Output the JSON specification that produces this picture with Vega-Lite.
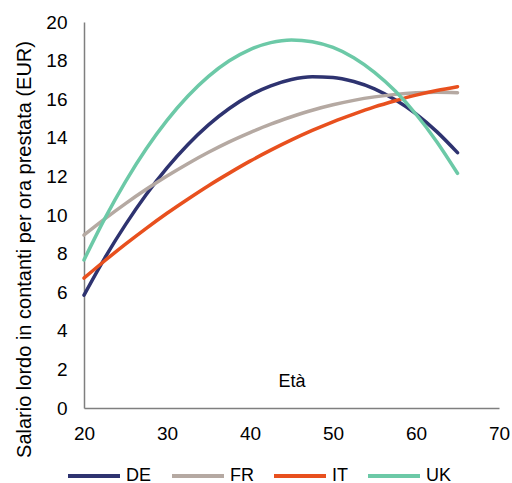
{
  "$schema": "https://vega.github.io/schema/vega-lite/v6.json",
  "width": 415,
  "height": 386,
  "autosize": {"type": "none"},
  "padding": {"left": 84, "top": 22, "right": 13, "bottom": 75},
  "background": "white",
  "config": {
    "font": "Liberation Sans",
    "view": {"stroke": null}
  },
  "data": {
    "values": [
      {"eta": 20, "paese": "DE", "salario": 5.85},
      {"eta": 22.5, "paese": "DE", "salario": 7.77},
      {"eta": 25, "paese": "DE", "salario": 9.5},
      {"eta": 27.5, "paese": "DE", "salario": 11.06},
      {"eta": 30, "paese": "DE", "salario": 12.44},
      {"eta": 32.5, "paese": "DE", "salario": 13.64},
      {"eta": 35, "paese": "DE", "salario": 14.67},
      {"eta": 37.5, "paese": "DE", "salario": 15.52},
      {"eta": 40, "paese": "DE", "salario": 16.2},
      {"eta": 42.5, "paese": "DE", "salario": 16.69},
      {"eta": 45, "paese": "DE", "salario": 17.02},
      {"eta": 47.5, "paese": "DE", "salario": 17.16},
      {"eta": 50, "paese": "DE", "salario": 17.13},
      {"eta": 52.5, "paese": "DE", "salario": 16.92},
      {"eta": 55, "paese": "DE", "salario": 16.54},
      {"eta": 57.5, "paese": "DE", "salario": 15.97},
      {"eta": 60, "paese": "DE", "salario": 15.24},
      {"eta": 62.5, "paese": "DE", "salario": 14.32},
      {"eta": 65, "paese": "DE", "salario": 13.23},
      {"eta": 20, "paese": "FR", "salario": 8.96},
      {"eta": 22.5, "paese": "FR", "salario": 9.8},
      {"eta": 25, "paese": "FR", "salario": 10.59},
      {"eta": 27.5, "paese": "FR", "salario": 11.33},
      {"eta": 30, "paese": "FR", "salario": 12.02},
      {"eta": 32.5, "paese": "FR", "salario": 12.66},
      {"eta": 35, "paese": "FR", "salario": 13.25},
      {"eta": 37.5, "paese": "FR", "salario": 13.79},
      {"eta": 40, "paese": "FR", "salario": 14.27},
      {"eta": 42.5, "paese": "FR", "salario": 14.71},
      {"eta": 45, "paese": "FR", "salario": 15.09},
      {"eta": 47.5, "paese": "FR", "salario": 15.43},
      {"eta": 50, "paese": "FR", "salario": 15.71},
      {"eta": 52.5, "paese": "FR", "salario": 15.94},
      {"eta": 55, "paese": "FR", "salario": 16.12},
      {"eta": 57.5, "paese": "FR", "salario": 16.25},
      {"eta": 60, "paese": "FR", "salario": 16.33},
      {"eta": 62.5, "paese": "FR", "salario": 16.36},
      {"eta": 65, "paese": "FR", "salario": 16.34},
      {"eta": 20, "paese": "IT", "salario": 6.73},
      {"eta": 22.5, "paese": "IT", "salario": 7.63},
      {"eta": 25, "paese": "IT", "salario": 8.49},
      {"eta": 27.5, "paese": "IT", "salario": 9.31},
      {"eta": 30, "paese": "IT", "salario": 10.09},
      {"eta": 32.5, "paese": "IT", "salario": 10.82},
      {"eta": 35, "paese": "IT", "salario": 11.52},
      {"eta": 37.5, "paese": "IT", "salario": 12.17},
      {"eta": 40, "paese": "IT", "salario": 12.79},
      {"eta": 42.5, "paese": "IT", "salario": 13.36},
      {"eta": 45, "paese": "IT", "salario": 13.89},
      {"eta": 47.5, "paese": "IT", "salario": 14.38},
      {"eta": 50, "paese": "IT", "salario": 14.83},
      {"eta": 52.5, "paese": "IT", "salario": 15.23},
      {"eta": 55, "paese": "IT", "salario": 15.6},
      {"eta": 57.5, "paese": "IT", "salario": 15.92},
      {"eta": 60, "paese": "IT", "salario": 16.21},
      {"eta": 62.5, "paese": "IT", "salario": 16.45},
      {"eta": 65, "paese": "IT", "salario": 16.65},
      {"eta": 20, "paese": "UK", "salario": 7.67},
      {"eta": 22.5, "paese": "UK", "salario": 9.81},
      {"eta": 25, "paese": "UK", "salario": 11.73},
      {"eta": 27.5, "paese": "UK", "salario": 13.43},
      {"eta": 30, "paese": "UK", "salario": 14.9},
      {"eta": 32.5, "paese": "UK", "salario": 16.15},
      {"eta": 35, "paese": "UK", "salario": 17.18},
      {"eta": 37.5, "paese": "UK", "salario": 17.99},
      {"eta": 40, "paese": "UK", "salario": 18.57},
      {"eta": 42.5, "paese": "UK", "salario": 18.93},
      {"eta": 45, "paese": "UK", "salario": 19.07},
      {"eta": 47.5, "paese": "UK", "salario": 18.98},
      {"eta": 50, "paese": "UK", "salario": 18.68},
      {"eta": 52.5, "paese": "UK", "salario": 18.15},
      {"eta": 55, "paese": "UK", "salario": 17.39},
      {"eta": 57.5, "paese": "UK", "salario": 16.42},
      {"eta": 60, "paese": "UK", "salario": 15.22},
      {"eta": 62.5, "paese": "UK", "salario": 13.8},
      {"eta": 65, "paese": "UK", "salario": 12.16}
    ]
  },
  "mark": {"type": "line", "interpolate": "monotone", "strokeWidth": 3.5, "strokeCap": "round"},
  "encoding": {
    "x": {
      "field": "eta",
      "type": "quantitative",
      "scale": {"domain": [20, 70], "nice": false},
      "axis": {
        "title": "Età",
        "titleFontSize": 18,
        "titleFontWeight": "normal",
        "titleColor": "#000000",
        "titleY": -18,
        "titleBaseline": "bottom",
        "values": [20, 30, 40, 50, 60, 70],
        "labelFontSize": 19,
        "labelColor": "#000000",
        "labelPadding": 16,
        "labelFlush": false,
        "ticks": false,
        "grid": false,
        "domainColor": "#7f7f7f",
        "domainWidth": 1.5
      }
    },
    "y": {
      "field": "salario",
      "type": "quantitative",
      "scale": {"domain": [0, 20], "nice": false},
      "axis": {
        "title": "Salario lordo in contanti per ora prestata (EUR)",
        "titleFontSize": 20,
        "titleFontWeight": "normal",
        "titleColor": "#000000",
        "titleAngle": -90,
        "titleAlign": "center",
        "titleBaseline": "middle",
        "titleX": -60,
        "titleY": 227,
        "values": [0, 2, 4, 6, 8, 10, 12, 14, 16, 18, 20],
        "labelFontSize": 19,
        "labelColor": "#000000",
        "labelPadding": 17,
        "labelFlush": false,
        "ticks": false,
        "grid": false,
        "domainColor": "#7f7f7f",
        "domainWidth": 1.5
      }
    },
    "color": {
      "field": "paese",
      "type": "nominal",
      "scale": {
        "domain": ["DE", "FR", "IT", "UK"],
        "range": ["#2e3370", "#b5a9a2", "#e8501e", "#6cc9a7"]
      },
      "legend": {
        "title": null,
        "orient": "none",
        "direction": "horizontal",
        "legendX": -5,
        "legendY": 439,
        "symbolType": "M-2,0H2",
        "symbolSize": 676,
        "symbolStrokeWidth": 4,
        "labelFontSize": 18,
        "labelColor": "#000000",
        "labelOffset": 17,
        "columnPadding": 12
      }
    }
  }
}
